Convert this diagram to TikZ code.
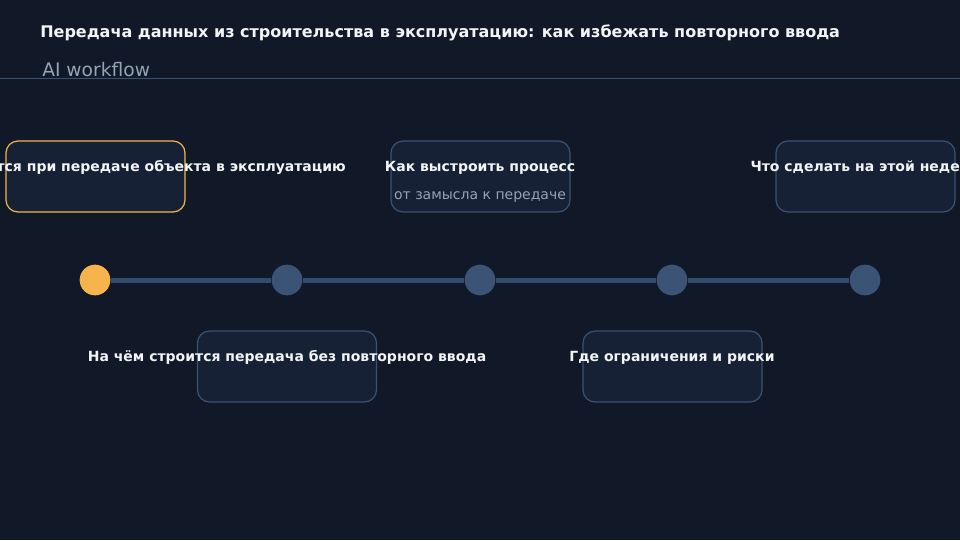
\documentclass[tikz,border=0pt]{standalone}
\usepackage{fontspec}
\setmainfont{DejaVu Sans}
\usepackage{tikz}

\definecolor{pagebg}{HTML}{111827}
\definecolor{cardbg}{HTML}{172135}
\definecolor{cardline}{HTML}{3A5374}
\definecolor{dotblue}{HTML}{3B5475}
\definecolor{trackcol}{HTML}{334B6C}
\definecolor{accent}{HTML}{F5B54C}
\definecolor{headtext}{HTML}{F3F4F6}
\definecolor{mutedtext}{HTML}{94A3B8}

\begin{document}
\begin{tikzpicture}[x=0.75pt,y=0.75pt,yscale=-1,xscale=1,
  card/.style={draw=cardline,fill=cardbg,line width=0.9pt,rounded corners=9pt,
    minimum width=134.25pt,minimum height=53.25pt,inner sep=0pt},
  cardhot/.style={card,draw=accent},
  dot/.style={circle,fill=dotblue,minimum size=23pt,inner sep=0pt},
  dothot/.style={dot,fill=accent},
  track/.style={draw=trackcol,line width=3.75pt},
  lbl/.style={anchor=base,inner sep=0.75pt,text=headtext,font=\bfseries\fontsize{10.5}{12}\selectfont},
  sublbl/.style={anchor=base,inner sep=0.75pt,text=mutedtext,font=\fontsize{10.5}{12}\selectfont}]
\useasboundingbox (0,0) rectangle (960,540);
\fill [pagebg] (0,0) rectangle (960,540);

% Header
\draw (40,37) node [anchor=base west][inner sep=0pt] (title) {\color{headtext}\bfseries\fontsize{12}{14}\selectfont Передача данных из строительства в эксплуатацию: как избежать повторного ввода};
\draw (42,76) node [anchor=base west][inner sep=0pt] (subtitle) {\color{mutedtext}\fontsize{14}{16}\selectfont AI workflow};
\coordinate (rulel) at (0,78.3);
\coordinate (ruler) at (960,78.3);
\draw [cardline,line width=0.75pt] (rulel) -- (ruler);

% Cards
\node [cardhot] (card1) at (95.5,176.5) {};
\node [card] (card2) at (287,366.5) {};
\node [card] (card3) at (480.5,176.5) {};
\node [card] (card4) at (672.5,366.5) {};
\node [card] (card5) at (865.5,176.5) {};

% Dots
\node [dothot] (dot1) at (95,280) {};
\node [dot] (dot2) at (287,280) {};
\node [dot] (dot3) at (480,280) {};
\node [dot] (dot4) at (672,280) {};
\node [dot] (dot5) at (865,280) {};

% Track
\draw [track] (dot1) -- (dot2);
\draw [track] (dot2) -- (dot3);
\draw [track] (dot3) -- (dot4);
\draw [track] (dot4) -- (dot5);

% Text Node
\draw (95,171) node [lbl] (lbl1) {Что реально теряется при передаче объекта в эксплуатацию};
% Text Node
\draw (287,361) node [lbl] (lbl2) {На чём строится передача без повторного ввода};
% Text Node
\draw (480,171) node [lbl] (lbl3) {Как выстроить процесс};
% Text Node
\draw (480,199) node [sublbl] (sub3) {от замысла к передаче};
% Text Node
\draw (672,361) node [lbl] (lbl4) {Где ограничения и риски};
% Text Node
\draw (865,171) node [lbl] (lbl5) {Что сделать на этой неделе};

\end{tikzpicture}
\end{document}
